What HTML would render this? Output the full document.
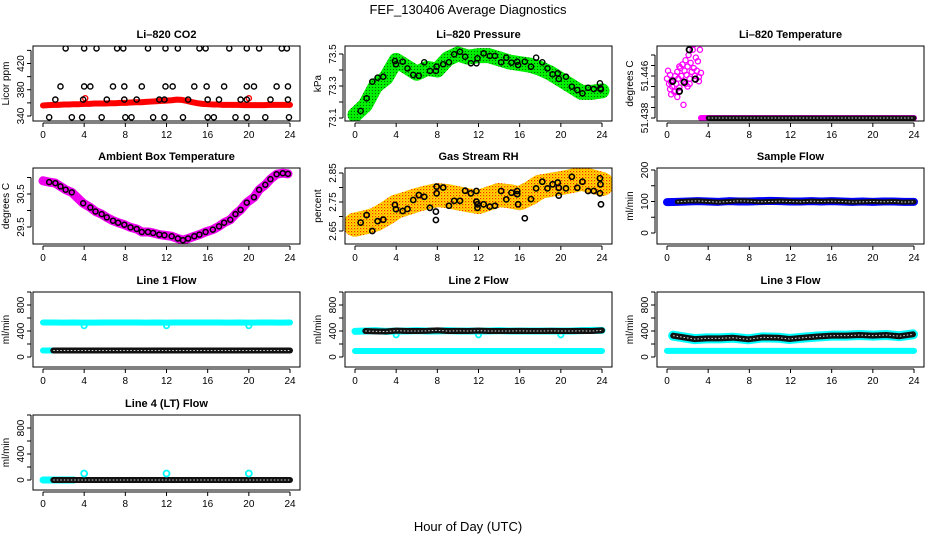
<!DOCTYPE html>
<html><head><meta charset="utf-8"><style>
html,body{margin:0;padding:0;background:#fff}
svg{display:block;font-family:"Liberation Sans",sans-serif}
</style></head><body>
<svg id="chart" width="936" height="540" viewBox="0 0 936 540" xmlns="http://www.w3.org/2000/svg">
<defs>
<pattern id="rhpat" width="3" height="3" patternUnits="userSpaceOnUse"><rect width="3" height="3" fill="#ffe000"/><rect width="1.2" height="1.2" fill="#ff2000"/><rect x="1.5" y="1.5" width="1" height="1" fill="#ff6000"/></pattern>
<pattern id="grpat" width="3" height="3" patternUnits="userSpaceOnUse"><rect width="3" height="3" fill="#00ee00"/><rect width="1" height="1" fill="#006600"/></pattern>
</defs>
<text x="468" y="14" text-anchor="middle" font-size="13">FEF_130406  Average Diagnostics</text>
<text x="468" y="531" text-anchor="middle" font-size="13">Hour of Day (UTC)</text>
</svg>
<script>
// ---------- data ----------
const xTicks=[0,4,8,12,16,20,24];
const halfHours=[0,0.5,1,1.5,2,2.5,3,3.5,4,4.5,5,5.5,6,6.5,7,7.5,8,8.5,9,9.5,10,10.5,11,11.5,12,12.5,13,13.5,14,14.5,15,15.5,16,16.5,17,17.5,18,18.5,19,19.5,20,20.5,21,21.5,22,22.5,23,23.5,24];
const hours=[0,1,2,3,4,5,6,7,8,9,10,11,12,13,14,15,16,17,18,19,20,21,22,23,24];
// CO2
const co2Red=[356,356.5,357,357,357.5,357.5,358,358,358.5,358.5,359,359,359,359.5,359.5,360,360,360.5,361,361,361.5,362,362.5,363,363.5,364,365,364.5,363,361,359.5,358.5,358,357.5,357.5,357,357,357,357,356.5,356.5,356.5,356.5,356.5,357,357,357,357,357];
const co2RedOutX=[4.1,20.0];
const co2RedOutY=[367,367];
const co2BlackX=[2.2,4.0,5.2,7.2,7.8,10.2,11.9,13.1,15.2,15.8,18.1,19.8,21.0,23.2,23.7, 1.7,4.0,4.6,6.8,7.9,9.6,11.9,12.6,14.7,15.9,17.6,19.8,20.5,22.7,23.8, 1.2,3.9,6.2,7.9,9.1,11.3,11.8,14.1,16.0,17.1,19.2,19.8,22.1,23.8, 0.6,2.8,3.8,5.7,8.0,8.6,10.7,11.8,13.6,16.0,16.6,18.7,19.8,21.6,23.9];
const co2BlackY=[443,443,443,443,443,443,443,443,443,443,443,443,443,443,443, 385,385,385,385,385,385,385,385,385,385,385,385,385,385,385, 365,365,365,365,365,365,365,365,365,365,365,365,365,365, 338,338,338,338,338,338,338,338,338,338,338,338,338,338,338];
// Pressure
const presBand=[73.12,73.18,73.30,73.35,73.46,73.42,73.38,73.41,73.40,73.47,73.50,73.48,73.49,73.49,73.47,73.45,73.44,73.43,73.41,73.38,73.34,73.30,73.26,73.26,73.27];
const presBlackX=[0.55,1.13,1.68,2.2,2.75,3.88,3.98,4.63,5.1,5.66,6.2,6.73,7.28,7.86,7.93,8.57,9.13,9.64,10.2,10.7,11.26,11.8,11.9,12.5,13.1,13.6,14.2,14.7,15.2,15.76,15.85,16.5,17.1,17.6,18.2,18.7,19.2,19.7,19.8,20.5,21.07,21.6,22.1,22.65,23.2,23.8,23.85,23.9];
const presBlackY=[73.144,73.223,73.327,73.352,73.358,73.456,73.436,73.452,73.41,73.369,73.364,73.448,73.394,73.394,73.421,73.436,73.448,73.498,73.514,73.483,73.442,73.442,73.473,73.504,73.488,73.488,73.448,73.477,73.446,73.452,73.431,73.452,73.421,73.477,73.448,73.41,73.373,73.379,73.344,73.358,73.296,73.275,73.254,73.289,73.281,73.317,73.286,73.279];
// Li-820 temperature
const tPinkX=[0.0,0.1,0.2,0.3,0.4,0.5,0.6,0.7,0.8,0.9,1.0,1.1,1.2,1.3,1.4,1.5,1.6,1.7,1.8,1.9,2.0,2.1,2.2,2.3,2.4,2.5,2.6,2.7,2.8,2.9,3.0,3.1,3.2,3.3,0.4,1.0,1.6,0.3,2.0,2.6,1.2,0.8,2.2,3.1,1.8];
const tPinkY=[51.4455,51.4470,51.4445,51.4462,51.4448,51.4440,51.4452,51.4430,51.4460,51.4445,51.4468,51.4455,51.4438,51.4475,51.4460,51.4482,51.4450,51.4470,51.4490,51.4462,51.4478,51.4500,51.4455,51.4485,51.4468,51.4510,51.4475,51.4460,51.4495,51.4470,51.4488,51.4458,51.4510,51.4466,51.4425,51.4420,51.4405,51.4435,51.4440,51.4520,51.4478,51.4432,51.4445,51.4450,51.4445];
const tBlackX=[0.55,1.2,1.68,2.17,2.75];
const tBlackY=[51.4450,51.4431,51.4448,51.4510,51.4454];
const tFlatX=[3.3,4,6,8,10,12,14,16,18,20,22,24];
const tFlatY=[51.438,51.438,51.438,51.438,51.438,51.438,51.438,51.438,51.438,51.438,51.438,51.438];
// Ambient box temperature
const ambX=[0.0,0.6,1.2,1.7,2.2,2.8,3.9,4.6,5.1,5.7,6.2,6.8,7.3,7.9,8.5,9.1,9.6,10.2,10.7,11.3,11.8,12.5,13.1,13.6,14.1,14.7,15.2,15.8,16.5,17.1,17.6,18.2,18.7,19.2,19.8,20.5,21.0,21.6,22.1,22.7,23.3,23.8];
const ambY=[30.90,30.86,30.83,30.73,30.63,30.55,30.22,30.09,29.97,29.89,29.79,29.69,29.63,29.57,29.49,29.44,29.35,29.35,29.32,29.27,29.25,29.22,29.15,29.10,29.15,29.22,29.27,29.35,29.42,29.52,29.63,29.72,29.89,30.02,30.24,30.40,30.63,30.78,30.95,31.10,31.13,31.11];
// Gas stream RH
const rhBand=[2.672,2.680,2.690,2.710,2.734,2.745,2.757,2.766,2.774,2.770,2.763,2.756,2.750,2.762,2.774,2.770,2.763,2.780,2.803,2.809,2.815,2.822,2.830,2.822,2.812];
const rhBlackX=[0.55,1.13,1.68,2.2,2.75,3.88,3.98,4.63,5.1,5.66,6.2,6.73,7.28,7.86,7.86,7.93,7.93,8.57,9.13,9.64,10.2,10.7,11.26,11.8,11.8,11.9,11.9,12.5,13.1,13.6,14.2,14.7,15.2,15.76,15.76,15.85,16.5,17.1,17.6,18.2,18.7,19.2,19.7,19.8,19.8,20.5,21.07,21.6,22.1,22.65,23.2,23.8,23.8,23.85,23.9];
const rhBlackY=[2.679,2.705,2.65,2.684,2.689,2.74,2.725,2.719,2.726,2.757,2.774,2.768,2.73,2.717,2.688,2.803,2.78,2.8,2.737,2.754,2.754,2.789,2.780,2.788,2.751,2.742,2.730,2.742,2.734,2.737,2.788,2.759,2.782,2.788,2.777,2.742,2.694,2.76,2.797,2.82,2.797,2.811,2.817,2.799,2.772,2.797,2.837,2.799,2.82,2.788,2.788,2.832,2.780,2.811,2.742];
// Sample flow
const sampBlue=[98,99,100,101,100,99,101,100,100,101,102,101,100,100,101,100,101,100,99,100,99,100,100,99,99];
const sampBlack=[97,99,101,102,100,98,100,102,101,99,100,101,100,99,101,100,101,100,98,99,100,99,100,98,99];
// Line flows (hourly)
const l1Cyan=[530,530,528,530,528,528,530,530,530,530,528,530,528,530,530,530,530,530,528,530,528,530,530,528,530];
const l1DipX=[4,12,20];
const l1DipY=[480,480,480];
const l1Black=[100,100,100,100,100,100,100,100,100,100,100,100,100,100,100,100,100,100,100,100,100,100,100,100,100];
const l1CyanLow=[100,100,100,100];
const l2Cyan=[395,400,405,395,400,400,405,400,400,405,400,400,400,400,405,400,400,400,400,400,400,400,405,410,410];
const l2DipX=[4,12,20];
const l2DipY=[340,340,340];
const l2CyanLow=[92,92,92,92,92,92,92,92,92,92,92,92,92,92,92,92,92,92,92,92,92,92,92,92,92];
const l2Black=[400,400,395,392,405,400,400,402,410,400,402,400,405,400,400,400,402,400,400,402,400,400,402,400,410];
const l3X=[0.6,1.7,2.7,3.9,5.1,6.4,7.9,9.3,10.8,11.9,13.2,14.5,16.0,17.4,18.7,20.0,21.3,22.6,23.9];
const l3Black=[328,300,275,287,287,297,272,302,297,277,297,313,328,328,338,328,338,320,349];
const l3CyanLow=[95,95,95,95,95,95,95,95,95,95,95,95,95,95,95,95,95,95,95,95,95,95,95,95,95];
const l4Black=[0,0,0,0,0,0,0,0,0,0,0,0,0,0,0,0,0,0,0,0,0,0,0,0,0];
const l4CyanLow=[0,0,0,0];
const l4BumpX=[4,12,20];
const l4BumpY=[100,100,100];
const flowTicks=[0,200,400,600,800,1000];

// ---------- drawing ----------
const NS='http://www.w3.org/2000/svg';
const svg=document.getElementById('chart');
function mk(tag,attrs,parent){const e=document.createElementNS(NS,tag);for(const k in attrs)e.setAttribute(k,attrs[k]);(parent||svg).appendChild(e);return e;}
const colX=[{z:43,f:290,l:33,r:300},{z:355,f:602,l:345,r:612},{z:667,f:914,l:657,r:924}];
const rowY=[{t:46,b:121},{t:168,b:244},{t:292,b:367},{t:415,b:490}];

function panel(name,c,r,title,ylab,v1,p1,v2,p2,ticks,labels){
  const C=colX[c],R=rowY[r];
  const g=mk('g',{});
  
  
  const sx=h=>C.z+(C.f-C.z)*h/24;
  const sy=v=>p1+(p2-p1)*(v-v1)/(v2-v1);
  const cp='clip-'+name;
  const cl=mk('clipPath',{id:cp},g);mk('rect',{x:C.l,y:R.t,width:C.r-C.l,height:R.b-R.t},cl);
  const plot=mk('g',{'clip-path':'url(#'+cp+')'},g);
  
  
  const box=mk('rect',{x:C.l,y:R.t,width:C.r-C.l,height:R.b-R.t,fill:'none',stroke:'#000','stroke-width':1},g);
  
  
  const t=mk('text',{x:(C.l+C.r)/2,y:R.t-8,'text-anchor':'middle','font-size':11,'font-weight':'bold'},g);t.textContent=title;
  
  
  const xa=mk('g',{},g);
  
  
  mk('line',{x1:sx(0),x2:sx(24),y1:R.b+2,y2:R.b+2,stroke:'#000'},xa);
  xTicks.forEach(h=>{mk('line',{x1:sx(h),x2:sx(h),y1:R.b+2,y2:R.b+6,stroke:'#000'},xa);
    const tx=mk('text',{x:sx(h),y:R.b+17,'text-anchor':'middle','font-size':10},xa);tx.textContent=h;});
  const ya=mk('g',{},g);
  
  
  const ys=ticks.map(sy);
  mk('line',{x1:C.l-2,x2:C.l-2,y1:Math.min(...ys),y2:Math.max(...ys),stroke:'#000'},ya);
  ticks.forEach(v=>mk('line',{x1:C.l-6,x2:C.l-2,y1:sy(v),y2:sy(v),stroke:'#000'},ya));
  labels.forEach(([v,s])=>{const y=sy(v);const tx=mk('text',{x:C.l-9,y:y,'text-anchor':'middle','font-size':10,transform:`rotate(-90 ${C.l-9} ${y})`},ya);tx.textContent=s;});
  const yl=mk('text',{x:C.l-24,y:(R.t+R.b)/2,'text-anchor':'middle','font-size':10,transform:`rotate(-90 ${C.l-24} ${(R.t+R.b)/2})`},g);yl.textContent=ylab;
  
  
  return {sx,sy,plot};
}
function band(P,name,xs,ys,color,w){
  const pts=xs.map((x,i)=>P.sx(x)+','+P.sy(ys[i])).join(' ');
  const e=mk('polyline',{points:pts,fill:'none',stroke:color,'stroke-width':w,'stroke-linejoin':'round','stroke-linecap':'round'},P.plot);
  
  
}
function dots(P,name,xs,ys,color,r,sw){
  const g=mk('g',{},P.plot);
  
  
  xs.forEach((x,i)=>{const c=mk('circle',{cx:P.sx(x),cy:P.sy(ys[i]),r:r||2.6,fill:'none',stroke:color,'stroke-width':sw||1.4},g);
    
    });
}
function chain(P,name,xs,ys,w){
  band(P,name+'-band',xs,ys,'#111',w||6);
  const pts=xs.map((x,i)=>P.sx(x)+','+P.sy(ys[i])).join(' ');
  const e=mk('polyline',{points:pts,fill:'none',stroke:'#ddd','stroke-width':1,'stroke-dasharray':'1.5 2'},P.plot);
  
  
}
const sub=(a,i0,i1)=>a.slice(i0,i1);

let P=panel('co2',0,0,'Li\u2013820 CO2','Licor ppm',340,116,420,63.5,[340,360,380,400,420,440],[[340,'340'],[380,'380'],[420,'420']]);
band(P,'co2-red-series',halfHours,co2Red,'#ff0000',6);
dots(P,'co2-red-outliers',co2RedOutX,co2RedOutY,'#ff0000');
dots(P,'co2-black-series',co2BlackX,co2BlackY,'#000');

P=panel('pressure',1,0,'Li\u2013820 Pressure','kPa',73.1,118,73.5,54,[73.1,73.2,73.3,73.4,73.5],[[73.1,'73.1'],[73.3,'73.3'],[73.5,'73.5']]);
band(P,'pressure-green-series',hours,presBand,'url(#grpat)',15);
dots(P,'pressure-black-series',presBlackX,presBlackY,'#000');

P=panel('li820-temp',2,0,'Li\u2013820 Temperature','degrees C',51.438,118,51.446,76,[51.438,51.440,51.442,51.444,51.446,51.448,51.450],[[51.438,'51.438'],[51.446,'51.446']]);
dots(P,'temp-magenta-series',tPinkX,tPinkY,'#ff00ff',2.6,1.3);
band(P,'temp-magenta-flat',tFlatX,tFlatY,'#ff00ff',6);
chain(P,'temp-black-flat',sub(tFlatX,1),sub(tFlatY,1),5);
dots(P,'temp-black-series',tBlackX,tBlackY,'#000',2.8,1.8);

P=panel('ambient-temp',0,1,'Ambient Box Temperature','degrees C',29.5,227,30.5,194,[29.5,30.0,30.5,31.0],[[29.5,'29.5'],[30.5,'30.5']]);
band(P,'ambient-magenta-series',ambX,ambY,'#ee00ee',9);
dots(P,'ambient-black-series',sub(ambX,1),sub(ambY,1),'#000',2.5,1.5);

P=panel('gas-rh',1,1,'Gas Stream RH','percent',2.65,231,2.85,173,[2.65,2.70,2.75,2.80,2.85],[[2.65,'2.65'],[2.75,'2.75'],[2.85,'2.85']]);
band(P,'rh-orange-series',hours,rhBand,'url(#rhpat)',24);
dots(P,'rh-black-series',rhBlackX,rhBlackY,'#000',2.6,1.6);

P=panel('sample-flow',2,1,'Sample Flow','ml/min',0,233,200,170,[0,50,100,150,200],[[0,'0'],[100,'100'],[200,'200']]);
band(P,'sample-blue-series',hours,sampBlue,'#0000ff',8);
chain(P,'sample-black-series',sub(hours,1),sub(sampBlack,1),5);

P=panel('line1-flow',0,2,'Line 1 Flow','ml/min',0,357,400,331,flowTicks,[[0,'0'],[400,'400'],[800,'800']]);
band(P,'line1-cyan-series',hours,l1Cyan,'#00ffff',6);
dots(P,'line1-cyan-dips',l1DipX,l1DipY,'#00ffff',2.6,1.8);
band(P,'line1-cyan-low',sub(hours,0,4),l1CyanLow,'#00ffff',6);
chain(P,'line1-black-series',sub(hours,1),sub(l1Black,1),6);

P=panel('line2-flow',1,2,'Line 2 Flow','ml/min',0,357,400,331,flowTicks,[[0,'0'],[400,'400'],[800,'800']]);
band(P,'line2-cyan-series',hours,l2Cyan,'#00ffff',7);
dots(P,'line2-cyan-dips',l2DipX,l2DipY,'#00ffff',2.6,1.8);
band(P,'line2-cyan-low',hours,l2CyanLow,'#00ffff',6);
chain(P,'line2-black-series',sub(hours,1),sub(l2Black,1),6);

P=panel('line3-flow',2,2,'Line 3 Flow','ml/min',0,357,400,331,flowTicks,[[0,'0'],[400,'400'],[800,'800']]);
band(P,'line3-cyan-series',l3X,l3Black,'#00ffff',10);
band(P,'line3-cyan-low',hours,l3CyanLow,'#00ffff',6);
chain(P,'line3-black-series',l3X,l3Black,6);

P=panel('line4-flow',0,3,'Line 4 (LT) Flow','ml/min',0,480,400,454,flowTicks,[[0,'0'],[400,'400'],[800,'800']]);
band(P,'line4-cyan-low',sub(hours,0,4),l4CyanLow,'#00ffff',7);
chain(P,'line4-black-series',sub(hours,1),sub(l4Black,1),6);
dots(P,'line4-cyan-bumps',l4BumpX,l4BumpY,'#00ffff',3,1.8);
</script>
</body></html>
